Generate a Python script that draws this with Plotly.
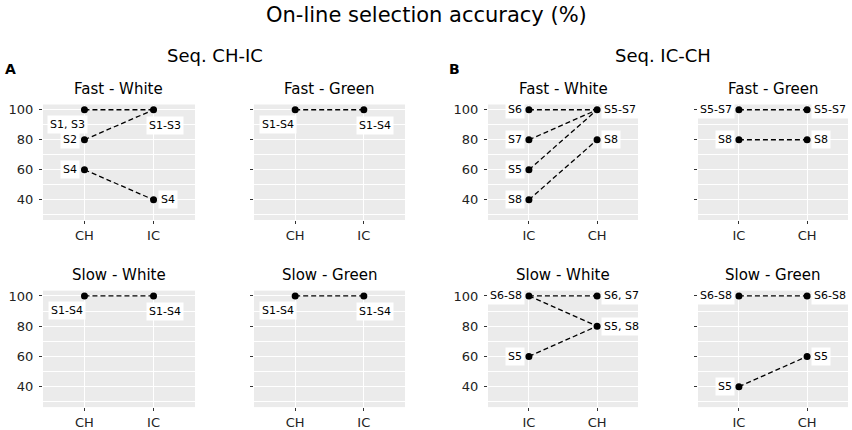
import plotly.graph_objs as go
from plotly.subplots import make_subplots

# ---- data ----
order_a = ["CH", "IC"]   # Seq. CH-IC
order_b = ["IC", "CH"]   # Seq. IC-CH
panel_titles = ["Fast - White", "Fast - Green", "Slow - White", "Slow - Green"]

# lines: accuracy in first / second session, one entry per line
a_first = [[100, 80, 60], [100], [100], [100]]
a_second = [[100, 100, 40], [100], [100], [100]]
b_first = [[100, 80, 60, 40], [100, 80], [100, 100, 60], [100, 40]]
b_second = [[100, 100, 100, 80], [100, 80], [100, 80, 80], [100, 60]]

# point labels
a_first_y = [[100, 80, 60], [100], [100], [100]]
a_first_txt = [["S1, S3", "S2", "S4"], ["S1-S4"], ["S1-S4"], ["S1-S4"]]
a_second_y = [[100, 40], [100], [100], [100]]
a_second_txt = [["S1-S3", "S4"], ["S1-S4"], ["S1-S4"], ["S1-S4"]]

b_first_y = [[100, 80, 60, 40], [100, 80], [100, 60], [100, 40]]
b_first_txt = [["S6", "S7", "S5", "S8"], ["S5-S7", "S8"], ["S6-S8", "S5"], ["S6-S8", "S5"]]
b_second_y = [[100, 80], [100, 80], [100, 80], [100, 60]]
b_second_txt = [["S5-S7", "S8"], ["S5-S7", "S8"], ["S6, S7", "S5, S8"], ["S6-S8", "S5"]]

y_ticks = [40, 60, 80, 100]
y_minor = [30, 50, 70, 90]

# ---- layout helpers ----
W, H = 852, 430
FONT = "DejaVu Sans"
col_px = [(43, 195), (254, 405), (488, 638), (698, 848)]
row_px = [(103, 219), (290, 407)]

# label placement (pixel shifts)
place = {
    "left": dict(xanchor="right", xshift=-4, yshift=0),
    "right": dict(xanchor="left", xshift=4, yshift=0),
    "below_left": dict(xanchor="center", xshift=-17, yshift=-15),
    "below_right": dict(xanchor="center", xshift=11, yshift=-16),
}

fig = make_subplots(rows=2, cols=4)

annotations = []


def add_panel(row, col, order, first, second, fy, ftxt, sy, stxt, seq_a):
    xs, ys = [], []
    for y1, y2 in zip(first, second):
        xs += [1, 2, None]
        ys += [y1, y2, None]
    fig.add_trace(go.Scatter(x=xs, y=ys, mode="lines",
                             line=dict(color="black", width=1.3, dash="5px,3px"),
                             showlegend=False, hoverinfo="skip"), row=row, col=col)
    px = [1] * len(fy) + [2] * len(sy)
    py = fy + sy
    fig.add_trace(go.Scatter(x=px, y=py, mode="markers",
                             marker=dict(color="black", size=7),
                             showlegend=False), row=row, col=col)
    idx = (row - 1) * 4 + col
    xr = "x" if idx == 1 else "x%d" % idx
    yr = "y" if idx == 1 else "y%d" % idx
    for xi, yl, tl in [(1, fy, ftxt), (2, sy, stxt)]:
        for y, t in zip(yl, tl):
            if seq_a and y == 100:
                p = place["below_left"] if xi == 1 else place["below_right"]
            else:
                p = place["left"] if xi == 1 else place["right"]
            annotations.append(dict(x=xi, y=y, xref=xr, yref=yr, text=t, showarrow=False,
                                    yanchor="middle", bgcolor="white", borderpad=2,
                                    font=dict(family=FONT, size=11, color="black"), **p))
    x0, x1 = col_px[col - 1]
    y0, y1 = row_px[row - 1]
    fig.update_xaxes(domain=[x0 / W, x1 / W], range=[0.4, 2.6],
                     tickmode="array", tickvals=[1, 2], ticktext=order,
                     showgrid=True, gridcolor="white", gridwidth=1.2, zeroline=False,
                     ticks="outside", ticklen=3, tickcolor="#333333",
                     tickfont=dict(family=FONT, size=13, color="#222222"),
                     showline=False, row=row, col=col)
    fig.update_yaxes(domain=[1 - y1 / H, 1 - y0 / H], range=[26.5, 103.5],
                     tickmode="array", tickvals=y_ticks, showticklabels=col in (1, 3),
                     showgrid=True, gridcolor="white", gridwidth=1.2, zeroline=False,
                     minor=dict(tickvals=y_minor, showgrid=True, gridcolor="white",
                                gridwidth=0.6, ticks=""),
                     ticks="outside", ticklen=3, tickcolor="#333333", ticklabelstandoff=3,
                     tickfont=dict(family=FONT, size=13, color="#222222"),
                     showline=False, row=row, col=col)
    annotations.append(dict(x=(x0 + x1) / 2 / W, y=1 - (y0 - 16) / H, xref="paper", yref="paper",
                            text=panel_titles[(row - 1) * 2 + (col - 1) % 2], showarrow=False,
                            xanchor="center", yanchor="middle",
                            font=dict(family=FONT, size=15, color="black")))


for k in range(4):
    r, c = k // 2 + 1, k % 2 + 1
    add_panel(r, c, order_a, a_first[k], a_second[k], a_first_y[k], a_first_txt[k],
              a_second_y[k], a_second_txt[k], True)
    add_panel(r, c + 2, order_b, b_first[k], b_second[k], b_first_y[k], b_first_txt[k],
              b_second_y[k], b_second_txt[k], False)

# titles
annotations.append(dict(x=426 / W, y=1 - 13 / H, xref="paper", yref="paper",
                        text="On-line selection accuracy (%)", showarrow=False,
                        xanchor="center", yanchor="middle",
                        font=dict(family=FONT, size=21, color="black")))
annotations.append(dict(x=214.5 / W, y=1 - 54 / H, xref="paper", yref="paper",
                        text="Seq. CH-IC", showarrow=False, xanchor="center", yanchor="middle",
                        font=dict(family=FONT, size=18, color="black")))
annotations.append(dict(x=662.5 / W, y=1 - 54 / H, xref="paper", yref="paper",
                        text="Seq. IC-CH", showarrow=False, xanchor="center", yanchor="middle",
                        font=dict(family=FONT, size=18, color="black")))
annotations.append(dict(x=3 / W, y=1 - 67 / H, xref="paper", yref="paper",
                        text="<b>A</b>", showarrow=False, xanchor="left", yanchor="middle",
                        font=dict(family=FONT, size=14, color="black")))
annotations.append(dict(x=447 / W, y=1 - 67 / H, xref="paper", yref="paper",
                        text="<b>B</b>", showarrow=False, xanchor="left", yanchor="middle",
                        font=dict(family=FONT, size=14, color="black")))

fig.update_layout(width=W, height=H, margin=dict(l=0, r=0, t=0, b=0),
                  paper_bgcolor="white", plot_bgcolor="#EBEBEB",
                  annotations=annotations, showlegend=False)

# page body has a default 8px margin; drop it so the figure fills the window
fig.write_html("out.html", config={"displayModeBar": False},
               post_script="document.body.style.margin='0';")
